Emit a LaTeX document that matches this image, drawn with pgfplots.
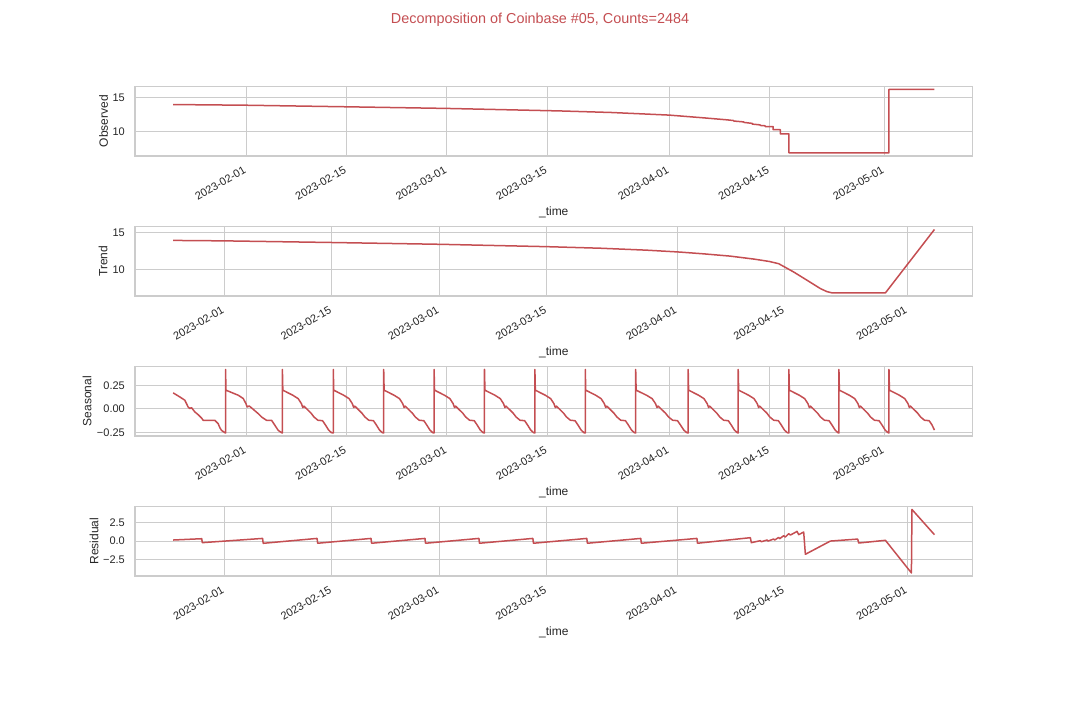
\documentclass[border=0pt]{standalone}
\usepackage{fontspec}
\setmainfont{Liberation Sans}
\usepackage{pgfplots}
\pgfplotsset{compat=1.18}
\definecolor{dred}{HTML}{C44E52}
\definecolor{gridc}{HTML}{CCCCCC}
\definecolor{txt}{HTML}{262626}
\pgfplotsset{
 dline/.style={draw=dred, line width=1.5pt, line join=round, mark=none},
 decomp/.style={
  scale only axis, width=837.5pt, height=69.8pt,
  anchor=north west,
  axis line style={draw=gridc, line width=1.25pt},
  grid=major, major grid style={draw=gridc, line width=1pt},
  major tick length=0pt,
  tick label style={font=\fontsize{11}{13}\selectfont, text=txt},
  label style={font=\fontsize{12}{14}\selectfont, text=txt},
  xticklabel style={xshift=-3pt, rotate=30, anchor=north east, inner sep=1pt},
  xticklabel shift=8pt,
  yticklabel style={anchor=east, inner sep=0pt},
  yticklabel shift=10pt,
  xlabel={\_time},
  xlabel style={at={(axis description cs:0.5,0)}, anchor=base, yshift=-59pt, inner sep=0pt},
  xtick={31,45,59,73,90,104,120},
  xticklabels={2023-02-01,2023-02-15,2023-03-01,2023-03-15,2023-04-01,2023-04-15,2023-05-01},
 },
 fullx/.style={xmin=15.49, xmax=132.31},
 trendx/.style={xmin=19.35, xmax=128.49},
}
\begin{document}
\begin{tikzpicture}
\path[use as bounding box] (0pt,0pt) rectangle (1080pt,720pt);
\node[font=\fontsize{14.4}{17}\selectfont, text=dred] at (540pt,700pt) {Decomposition of Coinbase \#05, Counts=2484};

% Observed
\begin{axis}[decomp, fullx, at={(135pt,633.7pt)},
  ymin=6.40, ymax=16.65, ytick={10,15}, yticklabels={10,15},
  ylabel={Observed}, ylabel style={at={(axis description cs:-0.0376,0.5)}, anchor=center}]
\addplot[dline] table[row sep=\\] {
x y\\
20.8 13.97\\ 31 13.87\\ 45 13.64\\ 59 13.40\\ 74.8 13.03\\ 82 12.80\\ 90 12.42\\ 95 12.0\\
98.1 11.72\\ 99 11.62\\ 99 11.55\\ 100.4 11.42\\ 100.4 11.35\\ 101.6 11.2\\ 101.6 11.1\\
102.7 10.98\\ 102.7 10.9\\ 103.4 10.85\\ 103.4 10.74\\ 104.5 10.74\\ 104.5 10.28\\
105.5 10.28\\ 105.5 9.66\\ 106.7 9.66\\ 106.7 6.87\\ 120.66 6.87\\ 120.66 16.18\\ 127.0 16.18\\
};
\end{axis}

% Trend
\begin{axis}[decomp, trendx, at={(135pt,493.7pt)},
  ymin=6.44, ymax=15.83, ytick={10,15}, yticklabels={10,15},
  ylabel={Trend}, ylabel style={at={(axis description cs:-0.0382,0.5)}, anchor=center}]
\addplot[dline] table[row sep=\\] {
x y\\
24.31 13.93\\ 31 13.87\\ 45 13.65\\ 59 13.41\\ 73 13.09\\ 80 12.88\\ 86 12.62\\ 90.4 12.36\\
93.5 12.12\\ 96.9 11.82\\ 100 11.42\\ 102 11.1\\ 103.23 10.80\\ 105.19 9.68\\ 106.93 8.57\\
108.67 7.45\\ 109.5 7.05\\ 110.19 6.87\\ 117.14 6.87\\ 123.53 15.40\\
};
\end{axis}

% Seasonal
\begin{axis}[decomp, fullx, at={(135pt,353.7pt)},
  ymin=-0.289, ymax=0.454, ytick={-0.25,0,0.25}, yticklabels={−0.25,0.00,0.25},
  ylabel={Seasonal}, ylabel style={at={(axis description cs:-0.0573,0.5)}, anchor=center}]
\addplot[dline] table[row sep=\\] {
x y\\
20.81 0.171\\ 21.74 0.128\\ 22.44 0.093\\ 22.90 0.021\\ 23.14 0.004\\ 23.37 0.014\\ 23.84 -0.032\\
24.30 -0.061\\ 24.77 -0.096\\ 25.0 -0.121\\ 26.63 -0.121\\ 27.09 -0.157\\ 27.33 -0.2\\ 27.56 -0.228\\
28.03 -0.253\\
28.12 -0.255\\ 28.12 0.42\\ 28.18 0.20\\ 28.96 0.175\\ 29.89 0.146\\ 30.59 0.111\\ 30.96 0.057\\
31.14 0.021\\ 31.42 0.032\\ 31.98 -0.004\\ 32.68 -0.05\\ 33.15 -0.086\\ 33.84 -0.121\\ 34.54 -0.121\\
35.01 -0.175\\ 35.47 -0.228\\ 35.94 -0.253\\
36.05 -0.255\\ 36.05 0.42\\ 36.11 0.20\\ 36.75 0.175\\ 37.50 0.146\\ 38.25 0.11\\ 38.70 0.057\\
38.90 0.015\\ 39.05 0.03\\ 39.45 0.0\\ 40.05 -0.045\\ 40.45 -0.085\\ 41.00 -0.12\\ 41.65 -0.125\\
42.05 -0.17\\ 42.50 -0.225\\ 42.90 -0.253\\
43.15 -0.255\\ 43.15 0.42\\ 43.21 0.20\\ 43.85 0.175\\ 44.60 0.146\\ 45.35 0.11\\ 45.80 0.057\\
46.00 0.015\\ 46.15 0.03\\ 46.55 0.0\\ 47.15 -0.045\\ 47.55 -0.085\\ 48.10 -0.12\\ 48.75 -0.125\\
49.15 -0.17\\ 49.60 -0.225\\ 50.00 -0.253\\
50.18 -0.255\\ 50.18 0.42\\ 50.24 0.20\\ 50.88 0.175\\ 51.63 0.146\\ 52.38 0.11\\ 52.83 0.057\\
53.03 0.015\\ 53.18 0.03\\ 53.58 0.0\\ 54.18 -0.045\\ 54.58 -0.085\\ 55.13 -0.12\\ 55.78 -0.125\\
56.18 -0.17\\ 56.63 -0.225\\ 57.03 -0.253\\
57.21 -0.255\\ 57.21 0.42\\ 57.27 0.20\\ 57.91 0.175\\ 58.66 0.146\\ 59.41 0.11\\ 59.86 0.057\\
60.06 0.015\\ 60.21 0.03\\ 60.61 0.0\\ 61.21 -0.045\\ 61.61 -0.085\\ 62.16 -0.12\\ 62.81 -0.125\\
63.21 -0.17\\ 63.66 -0.225\\ 64.06 -0.253\\
64.24 -0.255\\ 64.24 0.42\\ 64.30 0.20\\ 64.94 0.175\\ 65.69 0.146\\ 66.44 0.11\\ 66.89 0.057\\
67.09 0.015\\ 67.24 0.03\\ 67.64 0.0\\ 68.24 -0.045\\ 68.64 -0.085\\ 69.19 -0.12\\ 69.84 -0.125\\
70.24 -0.17\\ 70.69 -0.225\\ 71.09 -0.253\\
71.27 -0.255\\ 71.27 0.42\\ 71.33 0.20\\ 71.97 0.175\\ 72.72 0.146\\ 73.47 0.11\\ 73.92 0.057\\
74.12 0.015\\ 74.27 0.03\\ 74.67 0.0\\ 75.27 -0.045\\ 75.67 -0.085\\ 76.22 -0.12\\ 76.87 -0.125\\
77.27 -0.17\\ 77.72 -0.225\\ 78.12 -0.253\\
78.30 -0.255\\ 78.30 0.42\\ 78.36 0.20\\ 79.00 0.175\\ 79.75 0.146\\ 80.50 0.11\\ 80.95 0.057\\
81.15 0.015\\ 81.30 0.03\\ 81.70 0.0\\ 82.30 -0.045\\ 82.70 -0.085\\ 83.25 -0.12\\ 83.90 -0.125\\
84.30 -0.17\\ 84.75 -0.225\\ 85.15 -0.253\\
85.33 -0.255\\ 85.33 0.42\\ 85.39 0.20\\ 86.06 0.175\\ 86.84 0.146\\ 87.62 0.11\\ 88.09 0.057\\
88.30 0.015\\ 88.45 0.03\\ 88.87 0.0\\ 89.49 -0.045\\ 89.91 -0.085\\ 90.48 -0.12\\ 91.16 -0.125\\
91.57 -0.17\\ 92.04 -0.225\\ 92.46 -0.253\\
92.65 -0.255\\ 92.65 0.42\\ 92.71 0.20\\ 93.35 0.175\\ 94.10 0.146\\ 94.85 0.11\\ 95.30 0.057\\
95.50 0.015\\ 95.65 0.03\\ 96.05 0.0\\ 96.65 -0.045\\ 97.05 -0.085\\ 97.60 -0.12\\ 98.25 -0.125\\
98.65 -0.17\\ 99.10 -0.225\\ 99.50 -0.253\\
99.63 -0.255\\ 99.63 0.42\\ 99.69 0.20\\ 100.33 0.175\\ 101.08 0.146\\ 101.83 0.11\\ 102.28 0.057\\
102.48 0.015\\ 102.63 0.03\\ 103.03 0.0\\ 103.63 -0.045\\ 104.03 -0.085\\ 104.58 -0.12\\ 105.23 -0.125\\
105.63 -0.17\\ 106.08 -0.225\\ 106.48 -0.253\\
106.70 -0.255\\ 106.70 0.42\\ 106.76 0.20\\ 107.40 0.175\\ 108.15 0.146\\ 108.90 0.11\\ 109.35 0.057\\
109.55 0.015\\ 109.70 0.03\\ 110.10 0.0\\ 110.70 -0.045\\ 111.10 -0.085\\ 111.65 -0.12\\ 112.30 -0.125\\
112.70 -0.17\\ 113.15 -0.225\\ 113.55 -0.253\\
113.68 -0.255\\ 113.68 0.42\\ 113.74 0.20\\ 114.38 0.175\\ 115.13 0.146\\ 115.88 0.11\\ 116.33 0.057\\
116.53 0.015\\ 116.68 0.03\\ 117.08 0.0\\ 117.68 -0.045\\ 118.08 -0.085\\ 118.63 -0.12\\ 119.28 -0.125\\
119.68 -0.17\\ 120.13 -0.225\\ 120.53 -0.253\\
120.66 -0.255\\ 120.66 0.42\\ 120.72 0.20\\ 121.36 0.175\\ 122.11 0.146\\ 122.86 0.11\\ 123.31 0.057\\
123.51 0.015\\ 123.66 0.03\\ 124.06 0.0\\ 124.66 -0.045\\ 125.06 -0.085\\ 125.61 -0.12\\ 126.26 -0.125\\
126.66 -0.17\\ 127.0 -0.225\\
};
\end{axis}

% Residual
\begin{axis}[decomp, trendx, at={(135pt,213.7pt)},
  ymin=-4.79, ymax=4.75, ytick={-2.5,0,2.5}, yticklabels={−2.5,0.0,2.5},
  ylabel={Residual}, ylabel style={at={(axis description cs:-0.049,0.5)}, anchor=center}]
\addplot[dline] table[row sep=\\] {
x y\\
24.31 0.14\\ 28.05 0.32\\ 28.12 -0.22\\ 35.98 0.36\\ 36.05 -0.31\\ 43.08 0.36\\ 43.15 -0.30\\
50.11 0.36\\ 50.18 -0.30\\ 57.14 0.36\\ 57.21 -0.30\\ 64.17 0.36\\ 64.24 -0.30\\ 71.20 0.36\\
71.27 -0.30\\ 78.23 0.36\\ 78.30 -0.30\\ 85.26 0.36\\ 85.33 -0.30\\ 92.58 0.36\\ 92.65 -0.30\\
99.54 0.46\\ 99.67 -0.22\\ 100.84 0.05\\ 100.97 -0.09\\ 101.72 0.14\\ 101.85 0.0\\ 102.58 0.28\\
102.71 0.14\\ 103.23 0.5\\ 103.36 0.32\\ 103.88 0.73\\ 104.10 0.55\\ 104.53 1.0\\ 104.76 0.82\\
105.63 1.32\\ 105.84 0.87\\ 106.49 1.23\\ 106.71 -1.81\\ 109.97 0.0\\ 113.53 0.27\\ 113.66 -0.27\\
117.14 0.10\\ 120.53 -4.36\\ 120.60 4.32\\ 123.53 0.87\\
};
\end{axis}
\end{tikzpicture}
\end{document}
